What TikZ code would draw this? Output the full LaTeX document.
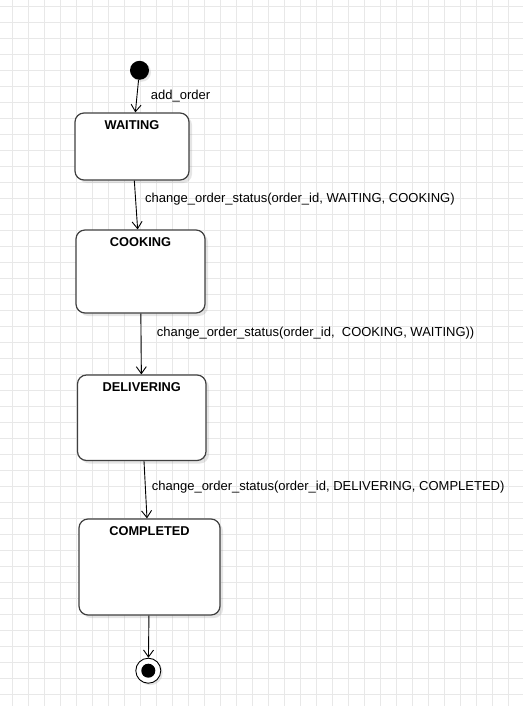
\documentclass[tikz,border=0pt]{standalone}
\usepackage{fontspec}
\setmainfont{Liberation Sans}
\usepackage{tikz}
\usetikzlibrary{arrows.meta, shadows}

\tikzset{
    state/.style={draw=black!75, line width=1.2bp, fill=white, rounded corners=9bp,
        drop shadow={shadow xshift=3bp, shadow yshift=-3bp, opacity=0.2}},
    txt/.style={font=\fontsize{13bp}{15bp}\selectfont, inner sep=0pt},
    title/.style={txt, font=\fontsize{12.8bp}{15bp}\selectfont\bfseries, anchor=center},
    trans/.style={black, line width=0.9bp, -{Straight Barb[length=7bp, width=10bp]}}
}

\begin{document}
\begin{tikzpicture}[x=1bp, y=-1bp]
    \useasboundingbox (0, 0) rectangle (523, 706);
    \fill[white] (0, 0) rectangle (523, 706);

    % Background grid
    \foreach \gx in {0,...,32} {
        \draw[gray!18, line width=0.8bp] (12.5+16*\gx, 0) -- (12.5+16*\gx, 706);
    }
    \foreach \gy in {0,...,43} {
        \draw[gray!18, line width=0.8bp] (0, 6.5+16*\gy) -- (523, 6.5+16*\gy);
    }

    % Start and end states
    \node[circle, fill=black, minimum size=19bp, inner sep=0pt,
        drop shadow={shadow xshift=2bp, shadow yshift=-2bp, opacity=0.2}] (init) at (139.5, 70.3) {};
    \node[circle, draw=black, line width=0.9bp, fill=white, minimum size=25bp, inner sep=0pt,
        drop shadow={shadow xshift=2bp, shadow yshift=-2bp, opacity=0.2}] (final) at (148.3, 670.7) {};
    \fill[black] (final.center) circle (7bp);

    % The states of an order
    \node[state, minimum width=114bp, minimum height=67bp,
        label={[title, yshift=-13bp]north:WAITING}] (waiting) at (132, 146.5) {};
    \node[state, minimum width=129bp, minimum height=83bp,
        label={[title, yshift=-12.5bp]north:COOKING}] (cooking) at (140.5, 271.5) {};
    \node[state, minimum width=128.5bp, minimum height=85.5bp,
        label={[title, yshift=-12.5bp]north:DELIVERING}] (delivering) at (141.75, 417.75) {};
    \node[state, minimum width=141bp, minimum height=96bp,
        label={[title, yshift=-12.5bp]north:COMPLETED}] (completed) at (149.5, 567) {};

    % Transitions
    \draw[trans] (init) -- (waiting);
    \draw[trans] (waiting) -- (cooking);
    \draw[trans] (cooking) -- (delivering);
    \draw[trans] (delivering) -- (completed);
    \draw[trans] (completed) -- (final);

    % Transition labels
    \node[txt, anchor=west] (lbladd) at (150.7, 95.7) {add\_order};
    \node[txt, anchor=west] (lblcook) at (145, 199.3) {change\_order\_status(order\_id, WAITING, COOKING)};
    \node[txt, anchor=west] (lbldeliver) at (156.7, 333.3) {change\_order\_status(order\_id,~ COOKING, WAITING))};
    \node[txt, anchor=west] (lbldone) at (151.7, 486.7) {change\_order\_status(order\_id, DELIVERING, COMPLETED)};
\end{tikzpicture}
\end{document}
